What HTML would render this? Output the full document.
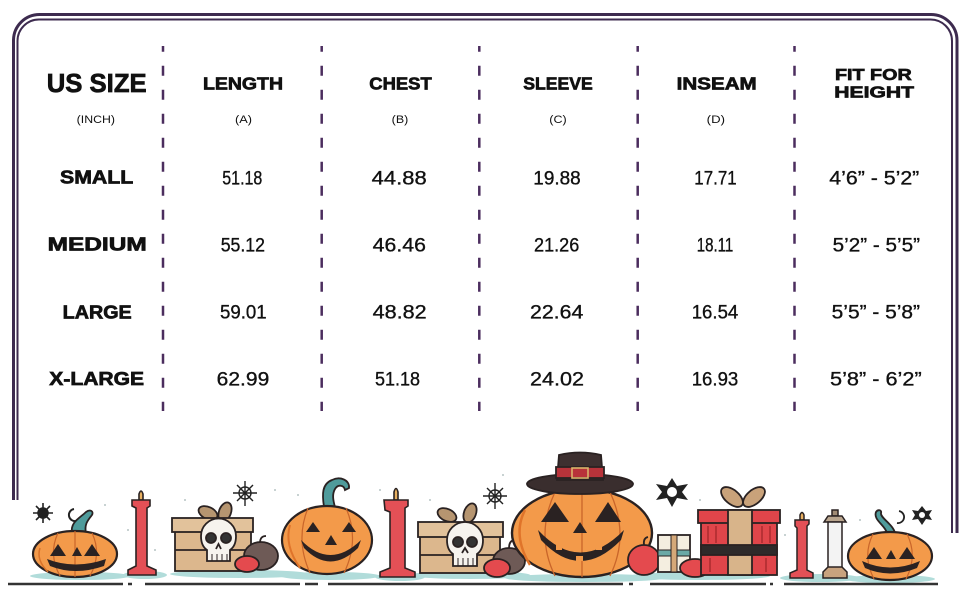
<!DOCTYPE html>
<html><head><meta charset="utf-8"><style>
html,body{margin:0;padding:0;background:#fff;}
svg{display:block;}
.h{font-family:"Liberation Sans",sans-serif;font-weight:bold;fill:#111;stroke:#111;stroke-width:0.7;}
.n{font-family:"Liberation Sans",sans-serif;fill:#111;stroke:#111;stroke-width:0.35;}
</style></head><body>
<svg width="970" height="600" viewBox="0 0 970 600" xmlns="http://www.w3.org/2000/svg">
<rect width="970" height="600" fill="#fff"/>
<!-- frame -->
<path d="M13.5 500 V40 A26 26 0 0 1 39.5 14.5 H931 A26 26 0 0 1 957 40.5 V533" fill="none" stroke="#3d2b4f" stroke-width="3"/>
<path d="M17.5 500 V41 A21.5 21.5 0 0 1 39 19.5 H930 A21.5 21.5 0 0 1 952 41 V533" fill="none" stroke="#3d2b4f" stroke-width="2"/>
<!-- dashed lines -->
<g stroke="#4b2d5e" stroke-width="2.5" stroke-dasharray="10 14" stroke-dashoffset="4.3">
<line x1="163" y1="46" x2="163" y2="411"/>
<line x1="321.7" y1="46" x2="321.7" y2="411"/>
<line x1="479.3" y1="46" x2="479.3" y2="411"/>
<line x1="637.7" y1="46" x2="637.7" y2="411"/>
<line x1="794.5" y1="46" x2="794.5" y2="411"/>
</g>
<!-- headers -->
<text class="h" x="46.7" y="92" font-size="26" textLength="100" lengthAdjust="spacingAndGlyphs">US SIZE</text>
<text class="h" x="203" y="89.3" font-size="17.3" textLength="80" lengthAdjust="spacingAndGlyphs">LENGTH</text>
<text class="h" x="369.3" y="89.3" font-size="17.3" textLength="62.4" lengthAdjust="spacingAndGlyphs">CHEST</text>
<text class="h" x="523.3" y="89.3" font-size="17.3" textLength="69.4" lengthAdjust="spacingAndGlyphs">SLEEVE</text>
<text class="h" x="676.7" y="89.3" font-size="17.3" textLength="80" lengthAdjust="spacingAndGlyphs">INSEAM</text>
<text class="h" x="835" y="80" font-size="16" textLength="76.7" lengthAdjust="spacingAndGlyphs">FIT FOR</text>
<text class="h" x="834.3" y="97.7" font-size="16" textLength="79.7" lengthAdjust="spacingAndGlyphs">HEIGHT</text>
<!-- subtitles -->
<g font-family="Liberation Sans, sans-serif" fill="#111" font-size="11.3">
<text x="76.7" y="123.2" textLength="38.3" lengthAdjust="spacingAndGlyphs">(INCH)</text>
<text x="235" y="123.2" textLength="17" lengthAdjust="spacingAndGlyphs">(A)</text>
<text x="391.7" y="123.2" textLength="16.6" lengthAdjust="spacingAndGlyphs">(B)</text>
<text x="549.3" y="123.2" textLength="17.4" lengthAdjust="spacingAndGlyphs">(C)</text>
<text x="706.7" y="123.2" textLength="18.3" lengthAdjust="spacingAndGlyphs">(D)</text>
</g>
<!-- row labels -->
<g class="h" font-size="18.3">
<text x="60" y="183.3" textLength="73.3" lengthAdjust="spacingAndGlyphs">SMALL</text>
<text x="47.7" y="250.7" textLength="99" lengthAdjust="spacingAndGlyphs">MEDIUM</text>
<text x="62.7" y="318.3" textLength="69" lengthAdjust="spacingAndGlyphs">LARGE</text>
<text x="49.3" y="385" textLength="94.7" lengthAdjust="spacingAndGlyphs">X-LARGE</text>
</g>
<!-- numbers -->
<g class="n" font-size="19.5">
<text x="222.3" y="184.3" textLength="40" lengthAdjust="spacingAndGlyphs">51.18</text>
<text x="371.7" y="184.3" textLength="55" lengthAdjust="spacingAndGlyphs">44.88</text>
<text x="533.3" y="184.3" textLength="47.4" lengthAdjust="spacingAndGlyphs">19.88</text>
<text x="694.3" y="184.3" textLength="42.4" lengthAdjust="spacingAndGlyphs">17.71</text>
<text x="829.3" y="184.3" textLength="90" lengthAdjust="spacingAndGlyphs">4’6” - 5’2”</text>

<text x="220.7" y="251.5" textLength="44.3" lengthAdjust="spacingAndGlyphs">55.12</text>
<text x="372.7" y="251.5" textLength="53.3" lengthAdjust="spacingAndGlyphs">46.46</text>
<text x="534" y="251.5" textLength="45.3" lengthAdjust="spacingAndGlyphs">21.26</text>
<text x="696.7" y="251.5" textLength="36.6" lengthAdjust="spacingAndGlyphs">18.11</text>
<text x="832.7" y="251.5" textLength="87.3" lengthAdjust="spacingAndGlyphs">5’2” - 5’5”</text>

<text x="220" y="318.5" textLength="46.7" lengthAdjust="spacingAndGlyphs">59.01</text>
<text x="372.7" y="318.5" textLength="54" lengthAdjust="spacingAndGlyphs">48.82</text>
<text x="530" y="318.5" textLength="53.3" lengthAdjust="spacingAndGlyphs">22.64</text>
<text x="691.7" y="318.5" textLength="46.6" lengthAdjust="spacingAndGlyphs">16.54</text>
<text x="831.7" y="318.5" textLength="88.3" lengthAdjust="spacingAndGlyphs">5’5” - 5’8”</text>

<text x="216.7" y="385.3" textLength="52.6" lengthAdjust="spacingAndGlyphs">62.99</text>
<text x="375" y="385.3" textLength="45" lengthAdjust="spacingAndGlyphs">51.18</text>
<text x="530" y="385.3" textLength="54" lengthAdjust="spacingAndGlyphs">24.02</text>
<text x="691.7" y="385.3" textLength="46.6" lengthAdjust="spacingAndGlyphs">16.93</text>
<text x="830" y="385.3" textLength="91.7" lengthAdjust="spacingAndGlyphs">5’8” - 6’2”</text>
</g>

<!-- ===== Halloween illustration ===== -->
<g fill="#a9d9d6" opacity="0.9">
<ellipse cx="80" cy="576" rx="50" ry="4"/>
<ellipse cx="145" cy="575" rx="22" ry="4"/>
<ellipse cx="240" cy="574" rx="70" ry="4"/>
<ellipse cx="330" cy="576" rx="50" ry="4"/>
<ellipse cx="400" cy="577" rx="25" ry="4"/>
<ellipse cx="470" cy="575" rx="60" ry="4"/>
<ellipse cx="585" cy="578" rx="80" ry="4"/>
<ellipse cx="700" cy="576" rx="70" ry="4"/>
<ellipse cx="820" cy="578" rx="40" ry="4"/>
<ellipse cx="890" cy="579" rx="45" ry="4"/>
</g>
<g stroke="#333" stroke-width="2.5">
<line x1="8" y1="584" x2="123" y2="584"/>
<line x1="128" y1="584" x2="132" y2="584"/>
<line x1="145" y1="584" x2="300" y2="584"/>
<line x1="305" y1="584" x2="318" y2="584"/>
<line x1="328" y1="584" x2="623" y2="584"/>
<line x1="629" y1="584" x2="633" y2="584"/>
<line x1="650" y1="584" x2="766" y2="584"/>
<line x1="770" y1="584" x2="773" y2="584"/>
<line x1="784" y1="584" x2="938" y2="584"/>
</g>

<!-- left pumpkin -->
<path d="M72 533 C70 522 80 518 86 512 C90 509 94 511 92 515 C88 520 84 524 86 534 Z" fill="#4f9b9b" stroke="#2a2222" stroke-width="1.8"/>
<ellipse cx="75" cy="554" rx="42" ry="23" fill="#f39a4a" stroke="#2a2222" stroke-width="2.2"/>
<path d="M40 548 Q36 560 48 572" fill="none" stroke="#d9722a" stroke-width="1.5"/>
<path d="M58 533 Q48 554 60 576 M92 533 Q102 554 90 576 M75 531 L75 577" fill="none" stroke="#c9652a" stroke-width="1.2"/>
<g fill="#2a2222">
<polygon points="50,556 58,544 66,556"/>
<polygon points="84,556 92,544 100,556"/>
<polygon points="72,556 77,547 82,556"/>
<path d="M47 559 Q75 570 106 559 L104 566 Q75 576 50 566 Z"/>
</g>
<g stroke="#222" stroke-width="1.6" fill="none">
<circle cx="43" cy="513" r="5" fill="#222"/>
<line x1="33" y1="513" x2="53" y2="513"/><line x1="43" y1="503" x2="43" y2="523"/>
<line x1="36" y1="506" x2="50" y2="520"/><line x1="50" y1="506" x2="36" y2="520"/>
<path d="M74 509 A6 6 0 1 0 76 521" stroke-width="2"/>
</g>
<g stroke="#2a2222" stroke-width="1.6">
<path d="M139 494 Q141 488 143 494 L143 500 L139 500 Z" fill="#e8b060"/>
<path d="M132 500 H150 V506 H150 L147 508 V566 L156 570 V575 H128 V570 L136 566 V508 L132 506 Z" fill="#e35056"/>
</g>
<g stroke="#2a2222" stroke-width="1.8">
<ellipse cx="208" cy="513" rx="10" ry="6" transform="rotate(25 208 513)" fill="#b69570"/>
<ellipse cx="225" cy="512" rx="6" ry="10" transform="rotate(20 225 512)" fill="#b69570"/>
<rect x="175" y="527" width="76" height="44" fill="#dcb78d"/>
<rect x="172" y="518" width="81" height="14" fill="#e2c29b"/>
<line x1="175" y1="550" x2="251" y2="550"/>
</g>
<g stroke="#2a2222" stroke-width="1.8">
<path d="M201 536 A17 17 0 0 1 236 536 Q236 546 230 550 V561 H207 V550 Q201 546 201 536 Z" fill="#f6f3ee"/>
<circle cx="211" cy="538" r="5" fill="#333"/><circle cx="226" cy="538" r="5" fill="#333"/>
<path d="M216 549 L218.5 544 L221 549" fill="none"/>
<path d="M212 554 V561 M217 554 V561 M222 554 V561 M227 554 V561" fill="none" stroke-width="1"/>
</g>
<g stroke="#2a2222" stroke-width="1.8">
<path d="M260 543 Q260 536 266 536" fill="none"/>
<ellipse cx="261" cy="556" rx="17" ry="14" fill="#6e5a56"/>
<ellipse cx="247" cy="564" rx="12" ry="8" fill="#e44a4e"/>
</g>
<g stroke="#222" stroke-width="1.4" fill="none">
<line x1="233" y1="493" x2="257" y2="493"/><line x1="245" y1="481" x2="245" y2="506"/>
<line x1="237" y1="485" x2="253" y2="501"/><line x1="253" y1="485" x2="237" y2="501"/>
<circle cx="245" cy="493" r="6"/>
</g>
<!-- mid pumpkin -->
<path d="M324 507 C322 494 322 484 332 480 C340 476 350 480 349 488 L345 490 C344 485 338 484 335 489 C332 494 333 500 335 507 Z" fill="#4f9b9b" stroke="#2a2222" stroke-width="1.8"/>
<ellipse cx="327" cy="540" rx="45" ry="34" fill="#f39a4a" stroke="#2a2222" stroke-width="2.2"/>
<path d="M290 525 Q284 545 300 568" fill="none" stroke="#e0742a" stroke-width="2"/>
<path d="M308 508 Q295 540 310 573 M346 508 Q360 540 344 573" fill="none" stroke="#c9652a" stroke-width="1.2"/>
<g fill="#2a2222">
<polygon points="306,532 313,522 320,532"/>
<polygon points="342,532 349,522 356,532"/>
<polygon points="325,545 331,535 337,545"/>
<path d="M301 540 Q330 570 361 540 L358 548 Q330 575 304 548 Z"/>
</g>
<g stroke="#2a2222" stroke-width="1.6">
<path d="M394 492 Q396 485 398 492 L398 500 L394 500 Z" fill="#e8b060"/>
<path d="M384 500 H408 V506 L405 508 V568 L415 572 V577 H380 V572 L390 568 V512 L385 510 Z" fill="#e35056"/>
</g>
<g stroke="#2a2222" stroke-width="1.8">
<ellipse cx="447" cy="515" rx="10" ry="6" transform="rotate(25 447 515)" fill="#b69570"/>
<ellipse cx="470" cy="513" rx="6" ry="10" transform="rotate(20 470 513)" fill="#b69570"/>
<rect x="420" y="535" width="80" height="38" fill="#dcb78d"/>
<rect x="418" y="522" width="85" height="15" fill="#e2c29b"/>
<line x1="420" y1="555" x2="500" y2="555"/>
</g>
<g stroke="#2a2222" stroke-width="1.8">
<path d="M447 540 A18 18 0 0 1 483 540 Q483 550 477 554 V566 H453 V554 Q447 550 447 540 Z" fill="#f6f3ee"/>
<circle cx="458" cy="542" r="5" fill="#333"/><circle cx="472" cy="542" r="5" fill="#333"/>
<path d="M462 553 L465 548 L468 553" fill="none"/>
<path d="M458 558 V566 M463 558 V566 M468 558 V566 M473 558 V566" fill="none" stroke-width="1"/>
</g>
<g stroke="#2a2222" stroke-width="1.8">
<path d="M509 548 Q509 541 514 540" fill="none"/>
<ellipse cx="509" cy="561" rx="16" ry="13" fill="#6e5a56"/>
<ellipse cx="497" cy="568" rx="13" ry="9" fill="#e44a4e"/>
</g>
<g stroke="#222" stroke-width="1.4" fill="none">
<line x1="483" y1="496" x2="507" y2="496"/><line x1="495" y1="483" x2="495" y2="509"/>
<line x1="487" y1="488" x2="503" y2="504"/><line x1="503" y1="488" x2="487" y2="504"/>
<circle cx="495" cy="496" r="6"/>
</g>
<!-- big pumpkin -->
<ellipse cx="582" cy="533" rx="70" ry="44" fill="#f39a4a" stroke="#2a2222" stroke-width="2.4"/>
<path d="M525 510 Q512 535 530 565" fill="none" stroke="#e0742a" stroke-width="2.5"/>
<path d="M555 492 Q535 535 555 576 M610 492 Q630 535 610 576 M582 490 L582 577" fill="none" stroke="#c9652a" stroke-width="1.3"/>
<g fill="#2a2222">
<polygon points="541,522 555,502 569,522"/>
<polygon points="595,522 608,502 621,522"/>
<polygon points="573,533 580,522 587,533"/>
<path d="M538 530 Q580 575 624 530 L621 540 Q580 582 541 540 Z"/>
</g>
<g fill="#f39a4a">
<rect x="556" y="544" width="6" height="6"/><rect x="596" y="544" width="6" height="6"/>
<rect x="576" y="556" width="7" height="5"/>
</g>
<g stroke="#2a2222" stroke-width="1.8">
<ellipse cx="580" cy="484" rx="53" ry="10" fill="#3a2e2e"/>
<path d="M557 480 L559 455 Q580 450 601 455 L603 480 Z" fill="#3d3030"/>
<rect x="556" y="467" width="48" height="11" fill="#b8333a"/>
<rect x="572" y="468" width="16" height="10" fill="none" stroke="#d9b36a" stroke-width="1.6"/>
</g>
<g>
<polygon points="672,478 677,486 688,484 682,492 688,500 677,498 672,507 667,498 656,500 662,492 656,484 667,486" fill="#222"/>
<circle cx="672" cy="492" r="5" fill="#fff"/>
</g>
<g stroke="#2a2222" stroke-width="1.8">
<path d="M644 545 Q643 538 648 537" fill="none"/>
<ellipse cx="644" cy="560" rx="16" ry="15" fill="#e44a4e"/>
<rect x="658" y="535" width="32" height="37" fill="#f4eee0"/>
<rect x="658" y="550" width="32" height="6" fill="#6aa9a6" stroke-width="1"/>
<rect x="671" y="535" width="6" height="37" fill="#d5a878" stroke-width="1"/>
<ellipse cx="695" cy="568" rx="15" ry="9" fill="#e44a4e"/>
</g>
<g stroke="#2a2222" stroke-width="1.8">
<ellipse cx="732" cy="497" rx="13" ry="7" transform="rotate(40 732 497)" fill="#c9a27a"/>
<ellipse cx="754" cy="497" rx="13" ry="7" transform="rotate(-40 754 497)" fill="#c9a27a"/>
<rect x="701" y="520" width="76" height="55" fill="#e0454a"/>
<rect x="698" y="510" width="82" height="13" fill="#e0454a"/>
<rect x="728" y="510" width="24" height="65" fill="#d8b48a"/>
<rect x="701" y="545" width="76" height="10" fill="#2e2a2a"/>
</g>
<g stroke="#9e2428" stroke-width="1.2">
<line x1="708" y1="526" x2="708" y2="543"/><line x1="716" y1="526" x2="716" y2="543"/>
<line x1="762" y1="526" x2="762" y2="543"/><line x1="770" y1="526" x2="770" y2="543"/>
<line x1="710" y1="558" x2="710" y2="572"/><line x1="766" y1="558" x2="766" y2="572"/>
</g>
<g stroke="#2a2222" stroke-width="1.5">
<path d="M800 515 Q802 510 804 515 V520 H800 Z" fill="#e8b060"/>
<path d="M795 520 H809 V524 L807 526 V570 L813 573 V578 H790 V573 L797 570 V528 L795 526 Z" fill="#e35056"/>
</g>
<g stroke="#2a2222" stroke-width="1.5">
<rect x="832" y="510" width="6" height="6" fill="#a08b75"/>
<path d="M824 522 L828 516 H842 L846 522 Z" fill="#b9a58e"/>
<rect x="828" y="522" width="14" height="46" fill="#f3f3f3"/>
<path d="M823 572 L828 567 H842 L847 572 V578 H823 Z" fill="#c8a27e"/>
</g>
<path d="M887 533 C885 525 873 520 876 512 C878 509 882 510 881 513 C880 518 893 524 895 533 Z" fill="#4f9b9b" stroke="#2a2222" stroke-width="1.8"/>
<ellipse cx="890" cy="556" rx="42" ry="24" fill="#f39a4a" stroke="#2a2222" stroke-width="2.2"/>
<path d="M873 534 Q862 556 874 579 M907 534 Q918 556 906 579" fill="none" stroke="#c9652a" stroke-width="1.2"/>
<g fill="#2a2222">
<polygon points="866,559 874,547 882,559"/>
<polygon points="899,559 907,547 915,559"/>
<polygon points="886,559 891,550 896,559"/>
<path d="M862 561 Q890 574 920 561 L917 568 Q890 579 865 568 Z"/>
</g>
<g stroke="#222" stroke-width="1.8" fill="none">
<path d="M899 511 A6 6 0 1 1 897 523"/>
</g>
<g>
<polygon points="922,506 926,511 932,510 929,515 932,520 926,519 922,525 918,519 912,520 915,515 912,510 918,511" fill="#222"/>
<circle cx="922" cy="515" r="3" fill="#fff"/>
</g>
<g fill="#9aa" opacity="0.7">
<circle cx="185" cy="500" r="1"/><circle cx="275" cy="490" r="1"/><circle cx="298" cy="495" r="1"/>
<circle cx="380" cy="490" r="1"/><circle cx="430" cy="500" r="1"/><circle cx="503" cy="475" r="1"/>
<circle cx="700" cy="500" r="1"/><circle cx="785" cy="535" r="1"/><circle cx="860" cy="520" r="1"/>
<circle cx="105" cy="505" r="1"/><circle cx="128" cy="530" r="1"/><circle cx="155" cy="550" r="1"/>
</g>
</svg>
</body></html>
